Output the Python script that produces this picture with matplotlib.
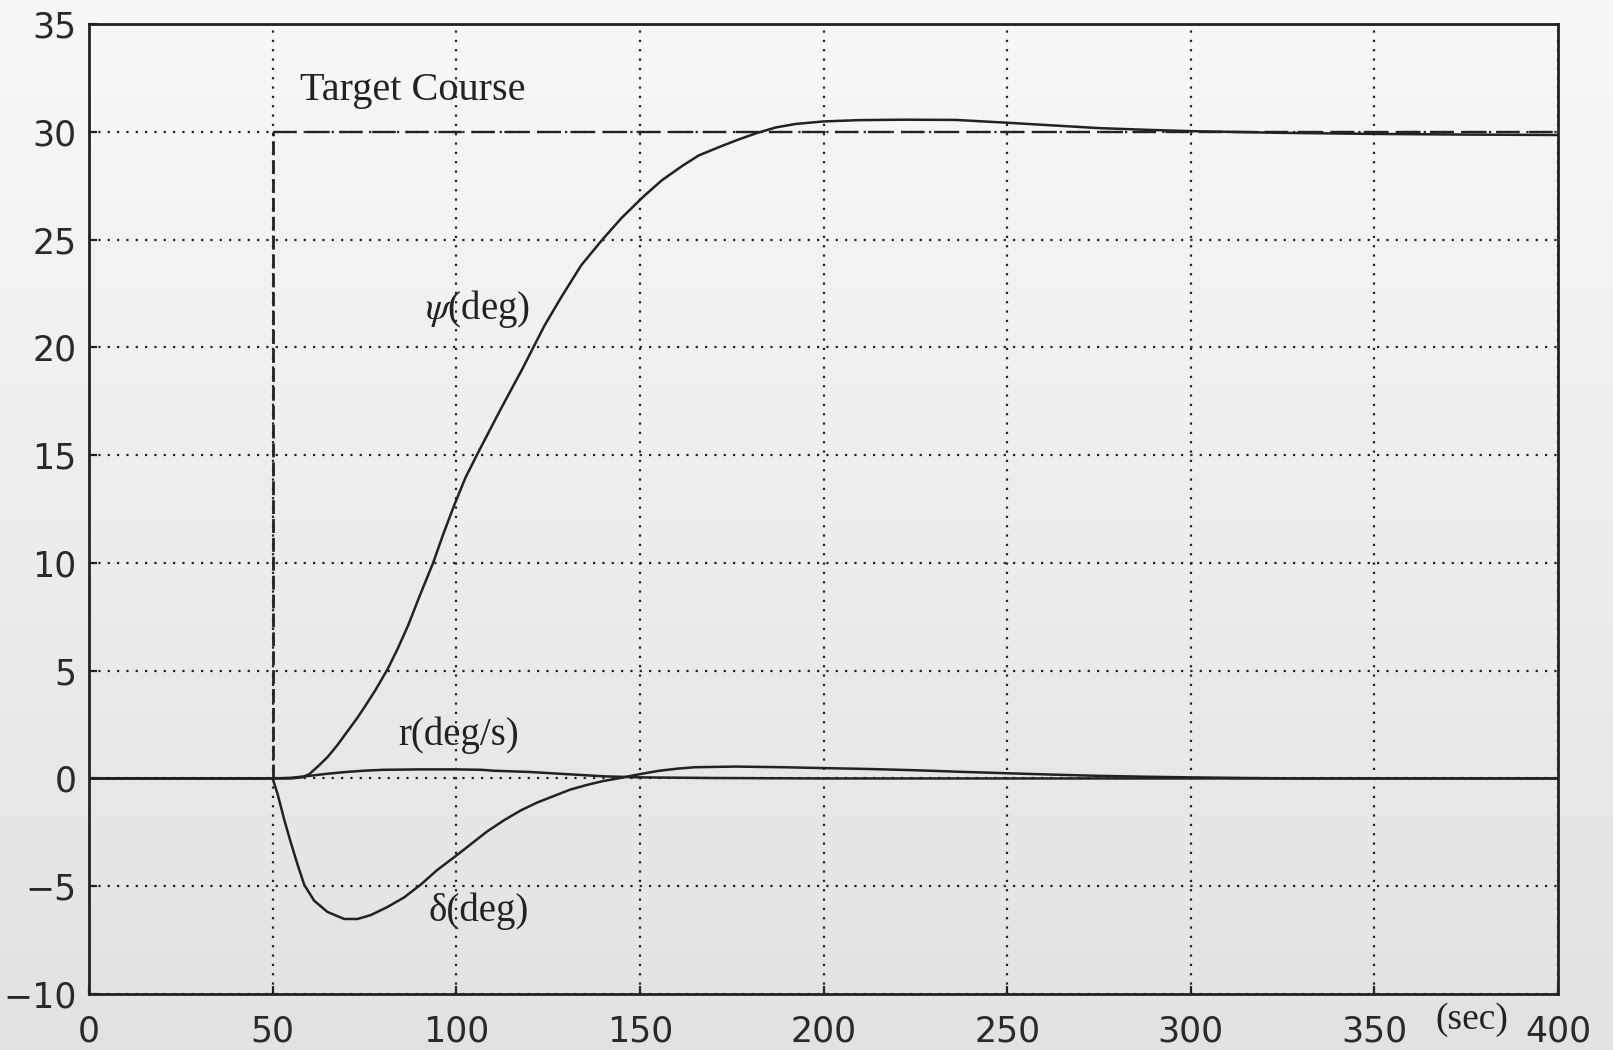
import matplotlib
matplotlib.use('Agg')
import matplotlib.pyplot as plt
from matplotlib.colors import LinearSegmentedColormap
import numpy as np

# heading psi (deg)
t_psi = [0, 50, 55, 58, 60, 62.6, 65, 67.7, 70, 72.9,
         75.1, 78, 81.4, 84, 86.9, 90, 93.7, 96.5, 99.5, 102.5,
         105.9, 112, 118, 124, 128.5, 134, 139.8, 145, 151, 156,
         161.4, 166, 171.7, 177, 182, 187, 192.3, 200, 209.6, 222,
         236, 250, 262, 275, 290, 300, 325, 350, 375, 400]
psi = [0, 0, 0.0, 0.05, 0.2, 0.6, 1.0, 1.56, 2.1, 2.77,
       3.33, 4.1, 5.1, 6.0, 7.1, 8.45, 10.0, 11.35, 12.7, 13.95,
       15.1, 17.1, 19.0, 21.0, 22.3, 23.8, 25.0, 26.0, 27.0, 27.75,
       28.4, 28.9, 29.3, 29.65, 29.95, 30.2, 30.36, 30.48, 30.54, 30.56,
       30.55, 30.42, 30.3, 30.17, 30.08, 30.03, 29.95, 29.9, 29.87, 29.85]

# yaw rate r (deg/s)
t_r = [0, 50, 55, 60, 65, 70, 75, 80, 90, 100, 107, 110, 120, 130, 140, 150, 170, 200, 400]
r = [0, 0, 0.03, 0.12, 0.22, 0.3, 0.36, 0.4, 0.42, 0.42, 0.4, 0.36, 0.3, 0.2, 0.1, 0.05, 0.02, 0.0, 0.0]

# rudder delta (deg)
t_delta = [0, 50, 51.4, 53.2, 55, 56.8, 58.6, 61.3, 64.9, 69.5,
           73.1, 76.7, 81.2, 85.8, 90.3, 94.8, 100, 103.9, 108.4, 113,
           117.5, 122, 126.5, 131, 135.6, 140, 144, 150, 155, 160,
           165, 176, 189, 200, 212, 225, 237, 250, 262, 275,
           288, 300, 315, 330, 400]
delta = [0, 0, -0.75, -1.94, -3.0, -4.0, -4.93, -5.67, -6.19, -6.52,
         -6.52, -6.34, -5.97, -5.52, -4.93, -4.25, -3.58, -3.06, -2.46, -1.94,
         -1.49, -1.12, -0.82, -0.52, -0.3, -0.12, 0.0, 0.2, 0.35, 0.45,
         0.52, 0.55, 0.52, 0.48, 0.44, 0.38, 0.31, 0.24, 0.18, 0.12,
         0.08, 0.05, 0.02, 0.0, 0.0]

# target course step
target_t = [50, 50, 400]
target_v = [0, 30, 30]

x_ticks = list(range(0, 401, 50))
y_ticks = list(range(-10, 36, 5))

ink = '#222222'
plt.rcParams['mathtext.fontset'] = 'stix'

fig = plt.figure(figsize=(16.13, 10.5), dpi=100)
fig.patch.set_facecolor('#ececec')

# scanned paper background
bg = fig.add_axes([0, 0, 1, 1], zorder=-10)
paper = LinearSegmentedColormap.from_list('paper', ['#f8f8f8', '#e2e2e2'])
grad = np.linspace(0, 1, 256).reshape(-1, 1)
bg.imshow(grad, aspect='auto', cmap=paper, vmin=0, vmax=1)
bg.axis('off')

ax = fig.add_axes([89 / 1613, 1 - 994 / 1050, 1469 / 1613, 970 / 1050])
ax.set_facecolor('none')

ax.plot(t_psi, psi, color=ink, lw=1.8)
ax.plot(t_r, r, color=ink, lw=1.8)
ax.plot(t_delta, delta, color=ink, lw=1.8)

# vertical and horizontal parts of target drawn with different dashes
ax.plot(target_t[:2], target_v[:2], color=ink, lw=2.0, linestyle=(0, (5, 1.8)))
ax.plot(target_t[1:], target_v[1:], color=ink, lw=1.7, linestyle=(0, (10, 4)))

ax.set_xlim(0, 400)
ax.set_ylim(-10, 35)
ax.set_xticks(x_ticks)
ax.set_yticks(y_ticks)
ax.grid(True, color=ink, linestyle=(0, (1, 3.2)), linewidth=1.6)

for s in ax.spines.values():
    s.set_linewidth(2.0)
    s.set_color(ink)

ax.tick_params(axis='both', direction='in', length=6, width=1.6, color=ink,
               labelcolor='#2a2a2a', labelsize=25)
ax.tick_params(axis='x', pad=15)
ax.tick_params(axis='y', pad=9)
for lbl in ax.get_xticklabels() + ax.get_yticklabels():
    lbl.set_fontfamily('DejaVu Sans')

serif = 'Liberation Serif'
ax.text(57.4, 31.9, 'Target Course', fontsize=29, family=serif, color=ink, va='center', ha='left')
ax.text(91.4, 21.8, r'$\psi$(deg)', fontsize=28, family=serif, color=ink, va='center', ha='left')
ax.text(84.3, 2.0, 'r(deg/s)', fontsize=28, family=serif, color=ink, va='center', ha='left')
ax.text(92.5, -6.15, 'δ(deg)', fontsize=28, family=serif, color=ink, va='center', ha='left')
ax.text(0.941, -0.026, '(sec)', fontsize=27, family=serif, color=ink, va='center', ha='center',
        transform=ax.transAxes, clip_on=False)

fig.savefig('out.png', dpi=100, facecolor=fig.get_facecolor())
